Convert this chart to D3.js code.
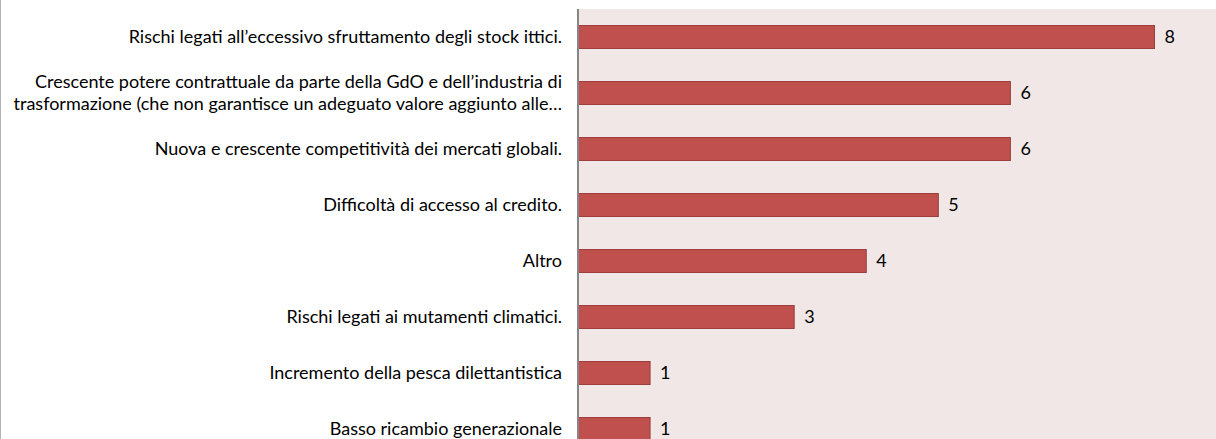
<!DOCTYPE html>
<html lang="it">
<head>
  <meta charset="UTF-8">
  <title>Criticità del settore</title>
  <style>
    body { margin: 0; padding: 0; background: #fff; }
    svg { display: block; font-family: Lato, "Open Sans", sans-serif; }
    .cat text { font-size: 18px; fill: #000; }
    .val { font-size: 18px; fill: #000; }
  </style>
</head>
<body>
  <svg id="chart" width="1216" height="439"></svg>
  <script src="https://cdnjs.cloudflare.com/ajax/libs/d3/7.8.5/d3.min.js"></script>
  <script>
  (function(){
    // categories, top to bottom (a label may hold two lines)
    const categories = [
      ["Rischi legati all\u2019eccessivo sfruttamento degli stock ittici."],
      ["Crescente potere contrattuale da parte della GdO e dell\u2019industria di",
       "trasformazione (che non garantisce un adeguato valore aggiunto alle\u2026"],
      ["Nuova e crescente competitività dei mercati globali."],
      ["Difficoltà di accesso al credito."],
      ["Altro"],
      ["Rischi legati ai mutamenti climatici."],
      ["Incremento della pesca dilettantistica"],
      ["Basso ricambio generazionale"]
    ];
    const values = [8, 6, 6, 5, 4, 3, 1, 1];

    const svg = d3.select("#chart"),
          width = +svg.attr("width"),
          height = +svg.attr("height");

    const plot = { left: 578, top: 9, right: width, bottom: 457 };

    const x = d3.scaleLinear().domain([0, 8]).range([plot.left, 1154.5]);
    const y = d3.scaleBand()
      .domain(d3.range(categories.length))
      .range([plot.top, plot.bottom])
      .paddingInner(0.59)
      .paddingOuter(0.295);

    // chart border (left edge)
    svg.append("line")
      .attr("x1", 0.5).attr("x2", 0.5)
      .attr("y1", 0).attr("y2", height)
      .attr("stroke", "#b3b3b3").attr("stroke-width", 1);

    // plot area background
    svg.append("rect")
      .attr("x", plot.left).attr("y", plot.top)
      .attr("width", plot.right - plot.left)
      .attr("height", height - plot.top)
      .attr("fill", "#f2e7e7");

    // bars
    svg.append("g")
      .selectAll("rect")
      .data(values)
      .join("rect")
        .attr("x", x(0))
        .attr("y", (d, i) => y(i))
        .attr("width", d => x(d) - x(0))
        .attr("height", y.bandwidth())
        .attr("fill", "#c0504d")
        .attr("stroke", "#9b3d3a")
        .attr("stroke-width", 1);

    // value labels
    svg.append("g")
      .selectAll("text")
      .data(values)
      .join("text")
        .attr("class", "val")
        .attr("x", d => x(d) + 10)
        .attr("y", (d, i) => y(i) + y.bandwidth() / 2)
        .attr("dy", "0.35em")
        .text(d => d);

    // category axis line
    svg.append("line")
      .attr("x1", plot.left).attr("x2", plot.left)
      .attr("y1", plot.top).attr("y2", height)
      .attr("stroke", "#868686").attr("stroke-width", 2);

    // category labels
    const fs = 18, lineH = 22;
    const cat = svg.append("g").attr("class", "cat")
      .selectAll("text")
      .data(categories)
      .join("text")
        .attr("text-anchor", "end")
        .attr("y", (d, i) => y(i) + y.bandwidth() / 2);

    cat.selectAll("tspan")
      .data(d => d.map((t, k) => ({ t, k, n: d.length })))
      .join("tspan")
        .attr("x", 562)
        .attr("dy", d => d.k === 0 ? (0.35 * fs - (d.n - 1) * lineH / 2) + "px" : lineH + "px")
        .text(d => d.t);
  })();
  </script>
</body>
</html>
